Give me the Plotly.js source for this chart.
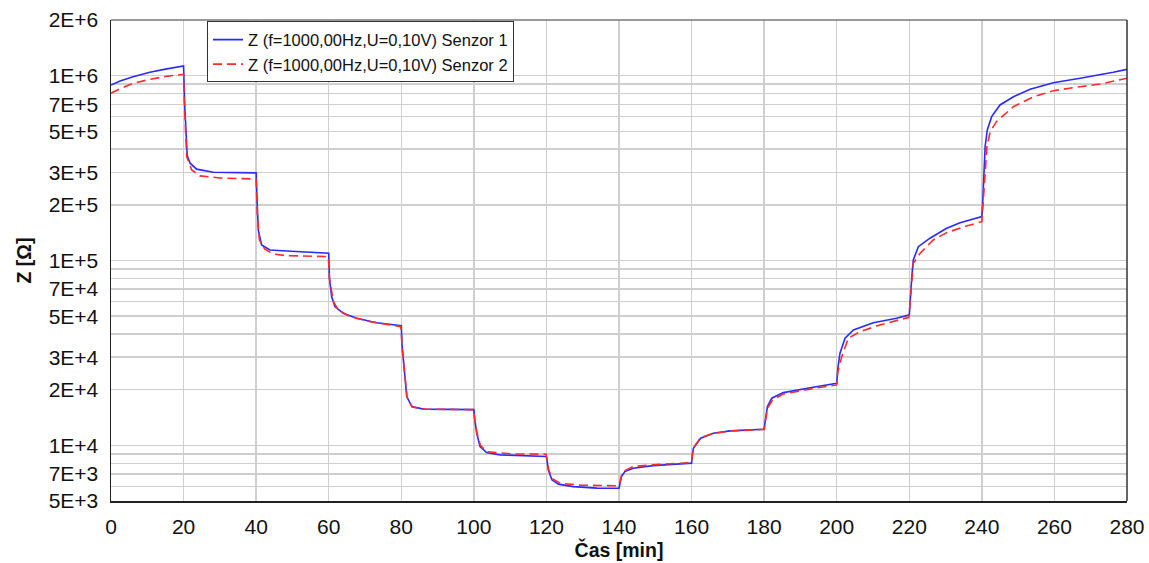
<!DOCTYPE html>
<html>
<head>
<meta charset="utf-8">
<script src="https://cdn.plot.ly/plotly-3.0.1.min.js"></script>
<style>
  html, body { margin: 0; padding: 0; background: #fff; }
  #chart { width: 1149px; height: 563px; }
</style>
</head>
<body>
<div id="chart"></div>
<script>
// Time axis (minutes) and impedance (ohm) for sensor 1
const timeS1 = [0, 2.5, 6.1, 10.7, 15, 20.0,
  20.3, 20.7, 21.0, 21.8, 23.6, 28.2, 34, 40.0,
  40.3, 40.6, 41.5, 43.8, 48.4, 54, 60.0,
  60.2, 60.8, 61.7, 64.0, 67.7, 73.2, 80.0,
  80.2, 80.75, 81.5, 82.9, 86.1, 93, 100.0,
  100.2, 100.8, 101.7, 103.5, 107.2, 115.5, 120.0,
  120.2, 120.5, 121.5, 123.3, 127.4, 133.9, 140.0,
  140.2, 140.7, 141.6, 143.9, 149.4, 160.0,
  160.2, 160.5, 162.5, 166.0, 170.6, 180.0,
  180.3, 180.9, 182.1, 185.3, 193.5, 200.0,
  200.3, 200.9, 202.3, 204.6, 210.1, 216.5, 220.0,
  220.3, 220.7, 221.1, 222.5, 225.7, 230.3, 234.0, 240.0,
  240.3, 240.6, 240.9, 241.5, 242.7, 245.0, 248.7, 253.3, 259.7, 267.1, 272.6, 276.2, 280];
const zS1 = [890e3, 935e3, 987e3, 1042e3, 1085e3, 1128e3,
  700e3, 450e3, 370e3, 336e3, 312e3, 300e3, 299e3, 298e3,
  200e3, 146e3, 121.4e3, 114e3, 112.6e3, 111e3, 109.4e3,
  80e3, 63.8e3, 56.3e3, 51.8e3, 48.7e3, 46.1e3, 44.4e3,
  35e3, 26.7e3, 18.35e3, 16.2e3, 15.7e3, 15.65e3, 15.6e3,
  14e3, 11.63e3, 9.85e3, 9.14e3, 8.88e3, 8.77e3, 8.70e3,
  8.2e3, 7.37e3, 6.51e3, 6.17e3, 5.98e3, 5.87e3, 5.86e3,
  6.2e3, 6.78e3, 7.21e3, 7.52e3, 7.77e3, 8.01e3,
  8.8e3, 9.65e3, 10.93e3, 11.63e3, 11.97e3, 12.23e3,
  13.5e3, 16.2e3, 17.99e3, 19.29e3, 20.63e3, 21.68e3,
  26e3, 31.5e3, 37.97e3, 42.1e3, 46.1e3, 48.7e3, 50.8e3,
  65e3, 81.8e3, 100.7e3, 118.8e3, 132e3, 149.4e3, 160.2e3, 172.7e3,
  220e3, 296e3, 412.8e3, 508e3, 600e3, 694e3, 769e3, 843.6e3, 915.7e3, 967.6e3, 1008e3, 1043e3, 1082e3];

// Time axis (minutes) and impedance (ohm) for sensor 2
const timeS2 = [0, 2.5, 6.1, 10.7, 15, 20.0,
  20.3, 20.86, 22.24, 24.5, 30.0, 39.7, 40.0,
  40.3, 40.9, 42.4, 44.7, 48.4, 59.9,
  60.2, 61.3, 62.6, 65.9, 71.4, 79.9,
  80.2, 80.8, 81.6, 83, 86.5, 100,
  100.2, 100.8, 101.8, 103.5, 110.2, 119.9,
  120.2, 120.6, 121.6, 123.8, 129.3, 139.8,
  140.2, 140.7, 141.6, 143.9, 149.4, 160,
  160.2, 160.5, 162.5, 166, 170.6, 180,
  180.3, 181.0, 182.3, 185.3, 193.5, 200,
  200.3, 201.4, 203.2, 206.4, 211.9, 219.9,
  220.3, 220.8, 221.1, 223.0, 226.6, 230.3, 235.8, 240,
  240.3, 240.9, 241.4, 242.3, 244.0, 248.7, 254.3, 259.7, 267.1, 272.6, 280];
const zS2 = [803e3, 850e3, 909e3, 955e3, 990e3, 1017e3,
  650e3, 364e3, 309e3, 287e3, 279.6e3, 276e3, 276e3,
  180e3, 129e3, 115e3, 108.5e3, 106.2e3, 105e3,
  80e3, 59.9e3, 54e3, 49.7e3, 46.7e3, 43.9e3,
  34e3, 26e3, 18.2e3, 16.1e3, 15.7e3, 15.6e3,
  14e3, 11.8e3, 10.0e3, 9.25e3, 8.99e3, 8.96e3,
  8.3e3, 7.4e3, 6.6e3, 6.24e3, 6.09e3, 6.04e3,
  6.3e3, 6.9e3, 7.3e3, 7.68e3, 7.85e3, 8.07e3,
  8.9e3, 9.7e3, 11.0e3, 11.6e3, 11.95e3, 12.2e3,
  13.5e3, 16.0e3, 17.6e3, 18.98e3, 20.3e3, 21.23e3,
  25e3, 30.2e3, 38e3, 41.2e3, 44.8e3, 49.3e3,
  62e3, 80e3, 96.7e3, 109.4e3, 129.2e3, 141.5e3, 153.8e3, 162.2e3,
  210e3, 296e3, 412.8e3, 497.6e3, 563.6e3, 679.6e3, 769e3, 829e3, 871.4e3, 901e3, 967.6e3];

// Series names
const seriesNames = ["Z (f=1000,00Hz,U=0,10V) Senzor 1", "Z (f=1000,00Hz,U=0,10V) Senzor 2"];

// Y grid at every 1..9 step of each decade; only some carry a label
const yGridVals = [5e3, 6e3, 7e3, 8e3, 9e3,
  1e4, 2e4, 3e4, 4e4, 5e4, 6e4, 7e4, 8e4, 9e4,
  1e5, 2e5, 3e5, 4e5, 5e5, 6e5, 7e5, 8e5, 9e5,
  1e6, 2e6];
const yGridText = ["5E+3", "", "7E+3", "", "",
  "1E+4", "2E+4", "3E+4", "", "5E+4", "", "7E+4", "", "",
  "1E+5", "2E+5", "3E+5", "", "5E+5", "", "7E+5", "", "",
  "1E+6", "2E+6"];

const xTicks = [0, 20, 40, 60, 80, 100, 120, 140, 160, 180, 200, 220, 240, 260, 280];

const traces = [
  {
    x: timeS1, y: zS1, name: seriesNames[0], type: "scatter", mode: "lines",
    line: { color: "#2a2aff", width: 1.6 }
  },
  {
    x: timeS2, y: zS2, name: seriesNames[1], type: "scatter", mode: "lines",
    line: { color: "#ff2a2a", width: 1.6, dash: "9px,5px" }
  }
];

const fontFamily = "Liberation Sans, Arial, sans-serif";

const layout = {
  width: 1149, height: 563,
  margin: { l: 111, r: 22, t: 20, b: 62, pad: 0 },
  paper_bgcolor: "#ffffff", plot_bgcolor: "#ffffff",
  font: { family: fontFamily, color: "#111" },
  showlegend: true,
  legend: {
    x: 0.0945, y: 0.997, xanchor: "left", yanchor: "top",
    bgcolor: "#ffffff", bordercolor: "#333", borderwidth: 1,
    font: { size: 16.5, family: fontFamily, color: "#111" },
    itemwidth: 30, tracegroupgap: 0
  },
  xaxis: {
    range: [0, 280], tickvals: xTicks, ticktext: xTicks.map(String),
    showgrid: true, gridcolor: "#cfcfcf", gridwidth: 1.5,
    showline: true, linecolor: "#222", linewidth: 1.5,
    ticks: "outside", ticklen: 6, tickcolor: "rgba(0,0,0,0)",
    tickfont: { size: 21, family: fontFamily, color: "#111" },
    zeroline: false,
    title: { text: "<b>Čas [min]</b>", font: { size: 19.5, family: fontFamily, color: "#111" }, standoff: 3 }
  },
  yaxis: {
    type: "log", range: [Math.log10(5000), Math.log10(2e6)],
    tickvals: yGridVals, ticktext: yGridText,
    showgrid: true, gridcolor: "#cfcfcf", gridwidth: 1.5,
    showline: true, linecolor: "#222", linewidth: 1.5,
    ticks: "outside", ticklen: 7, tickcolor: "rgba(0,0,0,0)",
    tickfont: { size: 21, family: fontFamily, color: "#111" },
    zeroline: false,
    title: { text: "<b>Z [Ω]</b>", font: { size: 19.5, family: fontFamily, color: "#111" }, standoff: 12 }
  },
  shapes: [
    { type: "line", xref: "paper", yref: "paper", x0: 0, x1: 1, y0: 1, y1: 1, line: { color: "#777", width: 1.5 } },
    { type: "line", xref: "paper", yref: "paper", x0: 1, x1: 1, y0: 0, y1: 1, line: { color: "#333", width: 1.5 } }
  ]
};

Plotly.newPlot("chart", traces, layout, { displayModeBar: false, staticPlot: true });
</script>
</body>
</html>
